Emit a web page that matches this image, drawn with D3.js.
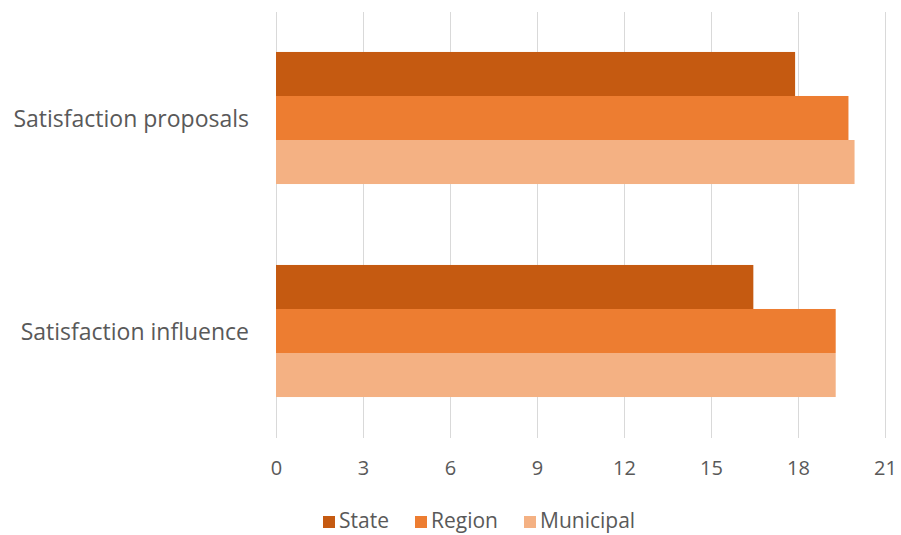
<!DOCTYPE html>
<html><head><meta charset="utf-8">
<script src="https://cdn.jsdelivr.net/npm/d3@7"></script>
<style>body{margin:0;background:#fff;} svg{display:block;}</style>
</head><body>
<svg id="c" width="901" height="535"></svg>
<script>
const categories = ["Satisfaction proposals", "Satisfaction influence"];
const seriesNames = ["State", "Region", "Municipal"];
const state = [17.9, 16.46];
const region = [19.74, 19.3];
const municipal = [19.95, 19.3];
const tickValues = [0, 3, 6, 9, 12, 15, 18, 21];
const colors = ["#C55A11", "#ED7D31", "#F4B183"];

const seriesValues = [state, region, municipal];
const svg = d3.select("#c");
const font = "'Open Sans', sans-serif";
const m = {left: 276, right: 16, top: 11.5, bottom: 97.5};
const W = 901, H = 535;
const x = d3.scaleLinear().domain([0, 21]).range([m.left, W - m.right]);
const y = d3.scaleBand().domain(categories).range([m.top, H - m.bottom]).paddingInner(0.38).paddingOuter(0.19);
const ys = d3.scaleBand().domain(seriesNames).range([0, y.bandwidth()]);

// gridlines
svg.append("g").selectAll("line").data(tickValues).join("line")
  .attr("x1", d => x(d)).attr("x2", d => x(d))
  .attr("y1", m.top).attr("y2", H - m.bottom)
  .attr("stroke", "#d9d9d9").attr("stroke-width", 1)
  .attr("shape-rendering", "crispEdges");

// bars
seriesNames.forEach((s, si) => {
  svg.append("g").selectAll("rect").data(categories).join("rect")
    .attr("x", x(0))
    .attr("y", c => y(c) + ys(s))
    .attr("width", (c, i) => x(seriesValues[si][i]) - x(0))
    .attr("height", ys.bandwidth())
    .attr("fill", colors[si]);
});

// x axis labels
const xAxis = d3.axisBottom(x).tickValues(tickValues).tickSize(0).tickPadding(0);
const gx = svg.append("g").attr("transform", `translate(0,${H - m.bottom})`).call(xAxis);
gx.select(".domain").remove();
gx.selectAll("text").attr("font-family", font).attr("font-size", 20).attr("fill", "#595959")
  .attr("y", 30).attr("dy", "0.35em");

// y axis labels
const yAxis = d3.axisLeft(y).tickSize(0).tickPadding(27);
const gy = svg.append("g").attr("transform", `translate(${m.left},0)`).call(yAxis);
gy.select(".domain").remove();
gy.selectAll("text").attr("font-family", font).attr("font-size", 23).attr("fill", "#595959")
  .attr("dy", "0.38em");

// legend
const legendX = [323, 415, 524];
const lg = svg.append("g");
seriesNames.forEach((s, i) => {
  lg.append("rect").attr("x", legendX[i]).attr("y", 516).attr("width", 12).attr("height", 12).attr("fill", colors[i]);
  lg.append("text").attr("x", legendX[i] + 16).attr("y", 521).attr("dy", "0.35em")
    .attr("font-family", font).attr("font-size", 21).attr("fill", "#595959").text(s);
});
</script>
</body></html>
